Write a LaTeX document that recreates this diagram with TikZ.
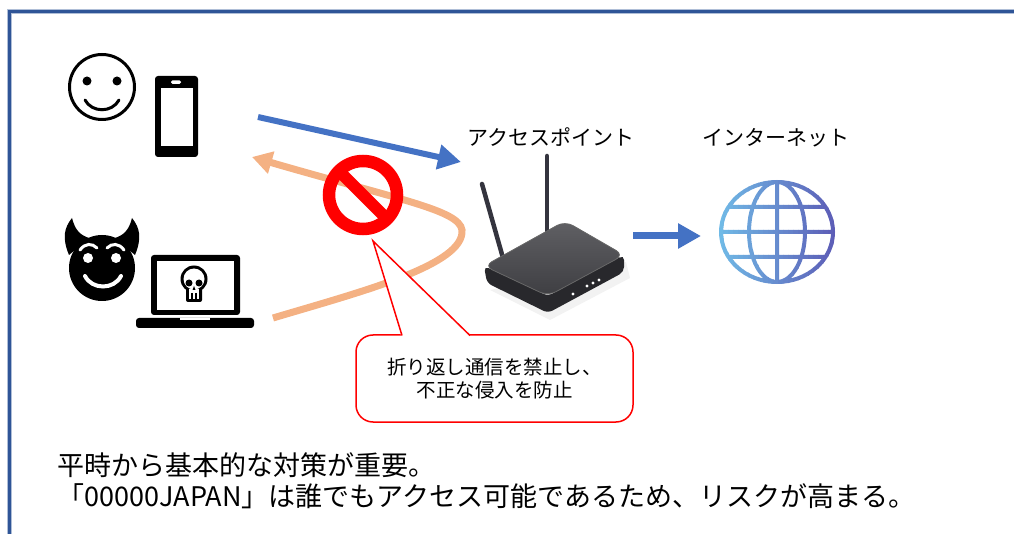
\documentclass[tikz,border=0pt]{standalone}
\usepackage{fontspec}
\setmainfont{Noto Sans CJK JP}
\usepackage{tikz}
\usetikzlibrary{arrows.meta,positioning}
\definecolor{frameblue}{RGB}{47,85,151}
\definecolor{framelight}{RGB}{175,190,215}
\definecolor{flowblue}{RGB}{68,114,196}
\definecolor{backorange}{RGB}{244,177,131}
\definecolor{stopred}{RGB}{255,0,0}
\definecolor{globeleft}{RGB}{112,186,230}
\definecolor{globeright}{RGB}{92,92,182}
\definecolor{aptop}{RGB}{96,96,100}
\definecolor{aptopdark}{RGB}{62,62,66}
\definecolor{apside}{RGB}{40,40,44}
\definecolor{antenna}{RGB}{52,52,62}
\tikzstyle{caption}=[inner sep=0pt,font=\fontsize{21}{25}\selectfont]
\tikzstyle{remark}=[anchor=base west,inner sep=0pt,font=\fontsize{27}{31}\selectfont]
\tikzstyle{flow}=[flowblue,line width=7pt,-{Triangle[length=23pt,width=24pt]}]
\tikzstyle{backflow}=[backorange,line width=7pt,-{Triangle[length=20pt,width=22pt]}]

\begin{document}
\begin{tikzpicture}[x=1pt,y=-1pt,thick]
\useasboundingbox (0,0) rectangle (1014,534);
\draw[framelight,line width=5pt] (9,540) -- (9,12) -- (1020,12);
\draw[frameblue,line width=3pt] (9,540) -- (9,12) -- (1020,12);

% smiley and phone
\node[draw,circle,line width=3pt,minimum size=65pt,inner sep=0pt] (user) at (102,87) {};
\foreach \x in {87,117}
  \fill (\x,81) circle (4.5pt);
\draw[line width=3pt,line cap=round] (85,100) .. controls (92,113) and (112,113) .. (119,100);
\node[fill,rounded corners=3pt,minimum width=43pt,minimum height=81pt,inner sep=0pt] (phone) at (176.5,116.5) {};
\fill[white] (161,88) rectangle (193,146);
\fill[white,rounded corners=1.5pt] (171,80.5) rectangle (181,84);

% devil and laptop
\fill (102,268) circle (33pt);
\fill (69,255) .. controls (62,238) and (64,228) .. (72,218) .. controls (75,230) and (80,235) .. (89,238) -- cycle;
\fill (135,255) .. controls (142,238) and (140,228) .. (132,218) .. controls (129,230) and (124,235) .. (115,238) -- cycle;
\fill[white] (88,258) circle (5pt) (116,258) circle (5pt);
\draw[white,line width=3pt,line cap=round] (80,250) .. controls (85,243) and (92,243) .. (97,248);
\draw[white,line width=3pt,line cap=round] (107,248) .. controls (112,243) and (119,243) .. (124,250);
\draw[white,line width=4pt,line cap=round] (85,276) .. controls (92,290) and (114,290) .. (121,276);
\node[fill,rounded corners=3pt,minimum width=89pt,minimum height=60pt,inner sep=0pt] (laptop) at (195.5,285) {};
\fill[white] (157,261) rectangle (234,310);
\fill[rounded corners=3pt] (136,318) rectangle (254,328);
\fill[white] (180,318) rectangle (210,320);
\fill (194,279) circle (13.5pt);
\fill[rounded corners=2pt] (186,286) rectangle (202,302);
\fill[white] (194,279) circle (10.5pt);
\fill[white] (189,289) rectangle (199,299);
\fill (189,283) circle (3.5pt) (199,283) circle (3.5pt);
\fill (194,286) -- (192.5,290) -- (195.5,290) -- cycle;
\draw[line width=1.3pt] (192,293) -- (192,301) (196,293) -- (196,301);

% access point
\draw[antenna,line width=4.5pt,line cap=round] (482,184) -- (503,258);
\draw[antenna,line width=4.5pt,line cap=round] (547,156) -- (547,235);
\fill[black!5] (490,290) -- (550,320) -- (630,278) -- (626,262) -- cycle;
\fill[apside,rounded corners=5pt] (484,266) -- (487,283) -- (548,313) -- (624,272) -- (624,255) -- (548,296) -- cycle;
\shade[top color=aptop,bottom color=aptopdark,rounded corners=9pt] (484,266) -- (565,221) -- (624,255) -- (548,296) -- cycle;
\draw[black!60,line width=0.8pt,rounded corners=9pt] (484,266) -- (565,221) -- (624,255) -- (548,296) -- cycle;
\foreach \x/\y in {573/294,587/286,593/283,599/280}
  \fill[white] (\x,\y) circle (1.6pt);
\node[caption] (aplabel) at (551,137) {アクセスポイント};

% globe
\foreach \i in {0,...,23}{
  \pgfmathtruncatemacro{\mix}{100-\i*100/23}
  \begin{scope}
    \clip (718+\i*5,175) rectangle (723.5+\i*5,290);
    \draw[globeleft!\mix!globeright,line width=4pt]
      (777,232) ellipse [x radius=56pt,y radius=50pt]
      (777,232) ellipse [x radius=28pt,y radius=50pt]
      (777,182) -- (777,282)
      (721,232) -- (833,232)
      (728.5,207) -- (825.5,207)
      (728.5,257) -- (825.5,257);
  \end{scope}
}
\node[caption] (netlabel) at (776,138) {インターネット};

% traffic
\coordinate (send) at (258,117);
\coordinate (apin) at (461,162);
\coordinate (leak) at (273,318);
\coordinate (back) at (252,157);
\coordinate (apout) at (633,236);
\coordinate (netin) at (701,236);
\draw[flow,line width=6pt] (send) -- (apin);
\draw[backflow] (leak) .. controls (360,292) and (465,265) .. (462,230) .. controls (459,210) and (400,200) .. (back);
\draw[flow] (apout) -- (netin);

% no entry sign and callout
\node[draw=stopred,circle,line width=12.5pt,minimum size=68pt,inner sep=0pt,outer sep=0pt] (stop) at (363,195) {};
\draw[stopred,line width=12pt] (stop.135) -- (stop.-45);
\node[draw=stopred,line width=1.5pt,fill=white,rounded corners=17pt,minimum width=277pt,minimum height=87pt] (note) at (494.5,378.5) {};
\coordinate (tip) at (373,241);
\fill[white] (401.5,337) -- (tip) -- (471.5,337) -- cycle;
\draw[stopred,line width=1.5pt] (402,335.5) -- (tip) -- (470,335.5);
\node[font=\fontsize{19.5}{23}\selectfont,align=center,inner sep=0pt] (notetext) at (note.center) {折り返し通信を禁止し、\\不正な侵入を防止};

\node[remark] (tip1) at (57,475) {平時から基本的な対策が重要。};
\node[remark] (tip2) at (57,506) {「00000JAPAN」は誰でもアクセス可能であるため、リスクが高まる。};
\end{tikzpicture}
\end{document}
